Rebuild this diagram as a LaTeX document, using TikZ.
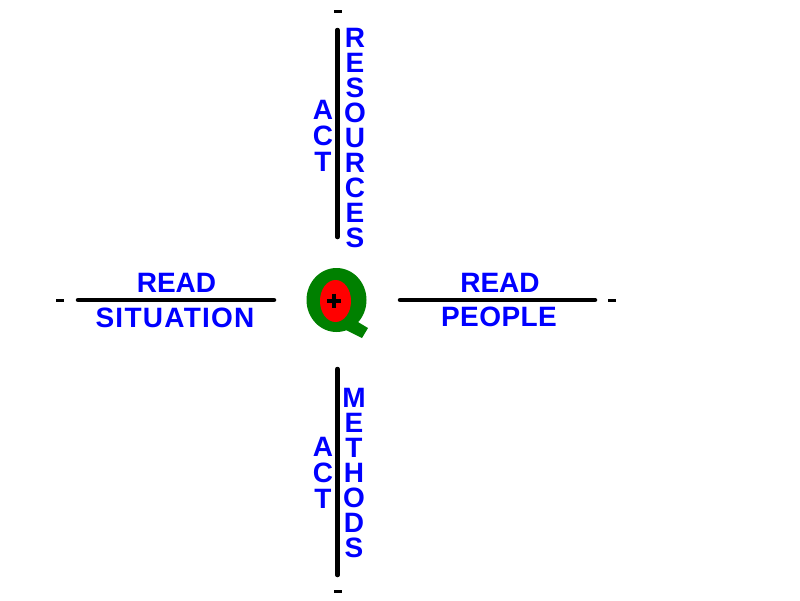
\documentclass[tikz,border=0pt]{standalone}
\usepackage{fontspec}
\setmainfont{Liberation Sans}
\usepackage{xcolor}
\definecolor{qgreen}{RGB}{0,128,0}
\tikzset{word/.style={text=blue, font=\bfseries\fontsize{28}{25}\selectfont, inner sep=0pt, align=center},
 bar/.style={draw=black, line width=4.5pt, line cap=round},
 tick/.style={draw=black, line width=3pt},
 }

\begin{document}
\begin{tikzpicture}[x=1pt, y=-1pt]
        \useasboundingbox (0,0) rectangle (800,600);
        % the four bars
        \draw[bar] (337.5, 30) -- (337.5, 237);
        \draw[bar] (337.5, 369) -- (337.5, 575);
        \draw[bar] (78, 300) -- (274, 300);
        \draw[bar] (400, 300) -- (595, 300);
        % small end ticks
        \foreach \x/\y in {334/11, 334/591} {
            \draw[tick] (\x, \y) -- (\x+8, \y);
        }
        \foreach \x/\y in {56/300, 608/300} {
            \draw[tick] (\x, \y) -- (\x+8, \y);
        }
        % labels
        \node[word, anchor=north] (res) at (355, 28) {R\\E\\S\\O\\U\\R\\C\\E\\S};
        \node[word, anchor=north, font=\bfseries\fontsize{28}{26}\selectfont] (acttop) at (323, 100) {A\\C\\T};
        \node[word, anchor=north] (meth) at (354, 388) {M\\E\\T\\H\\O\\D\\S};
        \node[word, anchor=north, font=\bfseries\fontsize{28}{26}\selectfont] (actbot) at (323, 437) {A\\C\\T};
        \node[word, anchor=north] (readl) at (176.5, 273) {READ};
        \node[word, anchor=north] (sit) at (175, 308) {\addfontfeature{LetterSpace=4.5}SITUATION};
        \node[word, anchor=north] (readr) at (500, 273) {READ};
        \node[word, anchor=north] (people) at (499, 307) {\addfontfeature{LetterSpace=1.5}PEOPLE};
        % the Q in the middle
        \fill[qgreen] (336.5, 300) ellipse (30 and 32);
        \fill[qgreen] (353, 319) -- (368, 328) -- (362, 338) -- (346, 330) -- cycle;
        \fill[red] (335.5, 301) ellipse (15.5 and 21);
        \fill[qgreen] (346, 322) -- (353, 316) -- (356, 324) -- cycle;
        \draw[black, line width=4pt] (327, 300.5) -- (341, 300.5);
        \draw[black, line width=4pt] (334, 293.5) -- (334, 307.5);
    \end{tikzpicture}
\end{document}
